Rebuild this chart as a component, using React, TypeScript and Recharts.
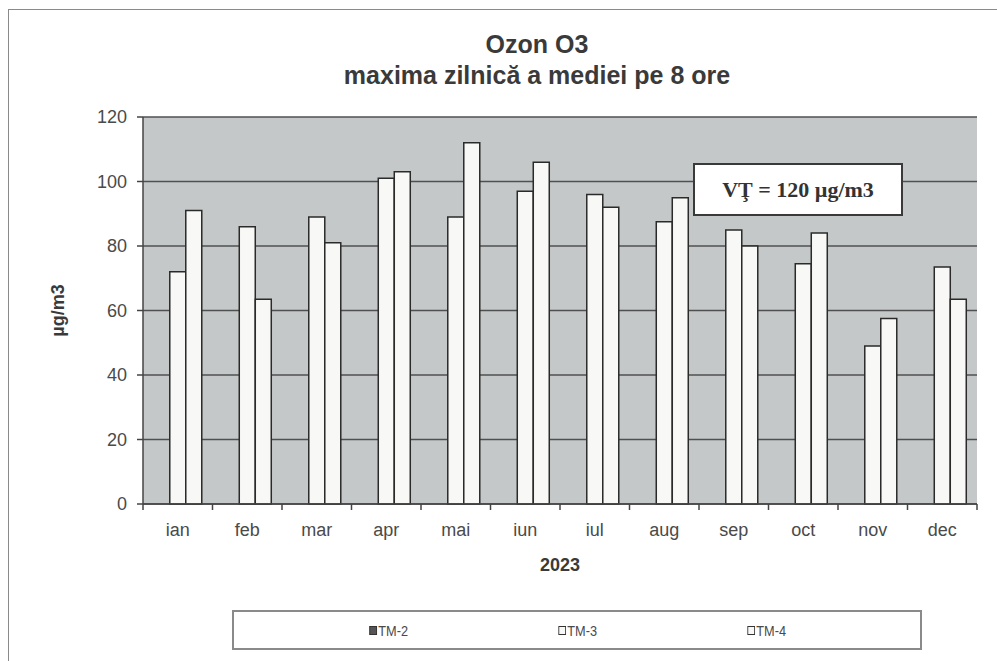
import React from 'react';
import {
  BarChart,
  Bar,
  XAxis,
  YAxis,
  CartesianGrid,
  Legend
} from 'recharts';

const months = ['ian', 'feb', 'mar', 'apr', 'mai', 'iun', 'iul', 'aug', 'sep', 'oct', 'nov', 'dec'];
const tm2: (number | null)[] = [null, null, null, null, null, null, null, null, null, null, null, null];
const tm3 = [72, 86, 89, 101, 89, 97, 96, 87.5, 85, 74.5, 49, 73.5];
const tm4 = [91, 63.5, 81, 103, 112, 106, 92, 95, 80, 84, 57.5, 63.5];
const yTicks = [0, 20, 40, 60, 80, 100, 120];

const data = months.map((m, i) => ({ month: m, tm2: tm2[i], tm3: tm3[i], tm4: tm4[i] }));

const W = 997;
const H = 661;
const PLOT_LEFT = 143;
const PLOT_RIGHT = 977;
const PLOT_TOP = 117;
const PLOT_BOTTOM = 504;
const STEP = (PLOT_RIGHT - PLOT_LEFT) / months.length;

const FONT = '"Liberation Sans", Arial, sans-serif';
const TEXT = '#4a4a4a';

const MonthTick = (props: any) => {
  const { x, payload, index } = props;
  const half = STEP / 2;
  return (
    <g>
      <line x1={x - half} x2={x - half} y1={PLOT_BOTTOM} y2={PLOT_BOTTOM + 6} stroke="#444" strokeWidth={1.5} />
      {index === months.length - 1 && (
        <line x1={x + half} x2={x + half} y1={PLOT_BOTTOM} y2={PLOT_BOTTOM + 6} stroke="#444" strokeWidth={1.5} />
      )}
      <text x={x} y={536} textAnchor="middle" fontSize={18} fill={TEXT} fontFamily={FONT}>
        {payload.value}
      </text>
    </g>
  );
};

const renderLegend = (props: any) => {
  const { payload } = props;
  return (
    <div
      style={{
        width: 690,
        height: 40,
        boxSizing: 'border-box',
        border: '2px solid #8a8a8a',
        background: '#fff',
        display: 'flex',
        justifyContent: 'center',
        alignItems: 'center'
      }}
    >
      {(payload || []).map((entry: any) => (
        <div
          key={entry.value}
          style={{
            width: 189,
            display: 'flex',
            justifyContent: 'center',
            alignItems: 'center',
            fontFamily: FONT,
            fontSize: 15,
            transform: 'scaleX(0.85)',
            color: TEXT
          }}
        >
          <span
            style={{
              display: 'inline-block',
              width: 7,
              height: 7,
              border: '1.5px solid #333',
              background: entry.color,
              marginRight: 2
            }}
          />
          {entry.value}
        </div>
      ))}
    </div>
  );
};

export default function App() {
  return (
    <div
      style={{
        position: 'absolute',
        left: 0,
        top: 0,
        width: W,
        height: H,
        overflow: 'hidden',
        background: '#fff'
      }}
    >
      <div
        style={{
          position: 'absolute',
          left: 8,
          top: 9,
          width: 1000,
          height: 700,
          border: '1.5px solid #8a8a8a'
        }}
      />
      <div
        style={{
          position: 'absolute',
          left: 0,
          width: 1074,
          top: 29,
          textAlign: 'center',
          fontFamily: FONT,
          fontWeight: 'bold',
          fontSize: 25,
          lineHeight: '31px',
          color: '#3a3a3a'
        }}
      >
        <div>Ozon O3</div>
        <div>maxima zilnică a mediei pe 8 ore</div>
      </div>

      <div style={{ position: 'absolute', left: 0, top: 0 }}>
        <BarChart
          width={W}
          height={H}
          data={data}
          margin={{ top: PLOT_TOP, right: W - PLOT_RIGHT, left: 0, bottom: 57 }}
          barCategoryGap="15.5%"
          barGap={0}
        >
          <CartesianGrid
            fill="#c5c8c8"
            stroke="#505050"
            strokeWidth={1.4}
            vertical={false}
          />
          <XAxis
            dataKey="month"
            height={100}
            axisLine={{ stroke: '#444', strokeWidth: 1.5 }}
            tickLine={false}
            tick={<MonthTick />}
            interval={0}
            label={{
              value: '2023',
              position: 'insideBottom',
              offset: 33,
              style: { fontFamily: FONT, fontWeight: 'bold', fontSize: 18, fill: '#3a3a3a' }
            }}
          />
          <YAxis
            width={PLOT_LEFT}
            domain={[0, 120]}
            ticks={yTicks}
            interval={0}
            axisLine={{ stroke: '#444', strokeWidth: 1.5 }}
            tickLine={{ stroke: '#444', strokeWidth: 1.5 }}
            tickSize={6}
            tickMargin={10}
            tick={{ fontSize: 18, fill: TEXT, fontFamily: FONT }}
            label={{
              value: 'µg/m3',
              angle: -90,
              position: 'insideLeft',
              offset: 58,
              style: { textAnchor: 'middle', fontFamily: FONT, fontWeight: 'bold', fontSize: 18, fill: '#3a3a3a' }
            }}
          />
          <Legend
            verticalAlign="middle"
            layout="horizontal"
            wrapperStyle={{ left: 232, top: 610, width: 690, height: 40 }}
            content={renderLegend}
          />
          <Bar dataKey="tm2" name="TM-2" fill="#555555" stroke="#2a2a2a" strokeWidth={1.5} isAnimationActive={false} />
          <Bar dataKey="tm3" name="TM-3" fill="#f8f8f6" stroke="#2a2a2a" strokeWidth={1.5} isAnimationActive={false} />
          <Bar dataKey="tm4" name="TM-4" fill="#f8f8f6" stroke="#2a2a2a" strokeWidth={1.5} isAnimationActive={false} />
        </BarChart>
      </div>

      <div
        style={{
          position: 'absolute',
          left: 693,
          top: 163,
          width: 210,
          height: 53,
          boxSizing: 'border-box',
          border: '2px solid #3a3a3a',
          background: '#fff',
          display: 'flex',
          alignItems: 'center',
          justifyContent: 'center',
          fontFamily: '"Liberation Serif", "Times New Roman", serif',
          fontWeight: 'bold',
          fontSize: 22,
          color: '#333'
        }}
      >
        VŢ = 120 µg/m3
      </div>
    </div>
  );
}
